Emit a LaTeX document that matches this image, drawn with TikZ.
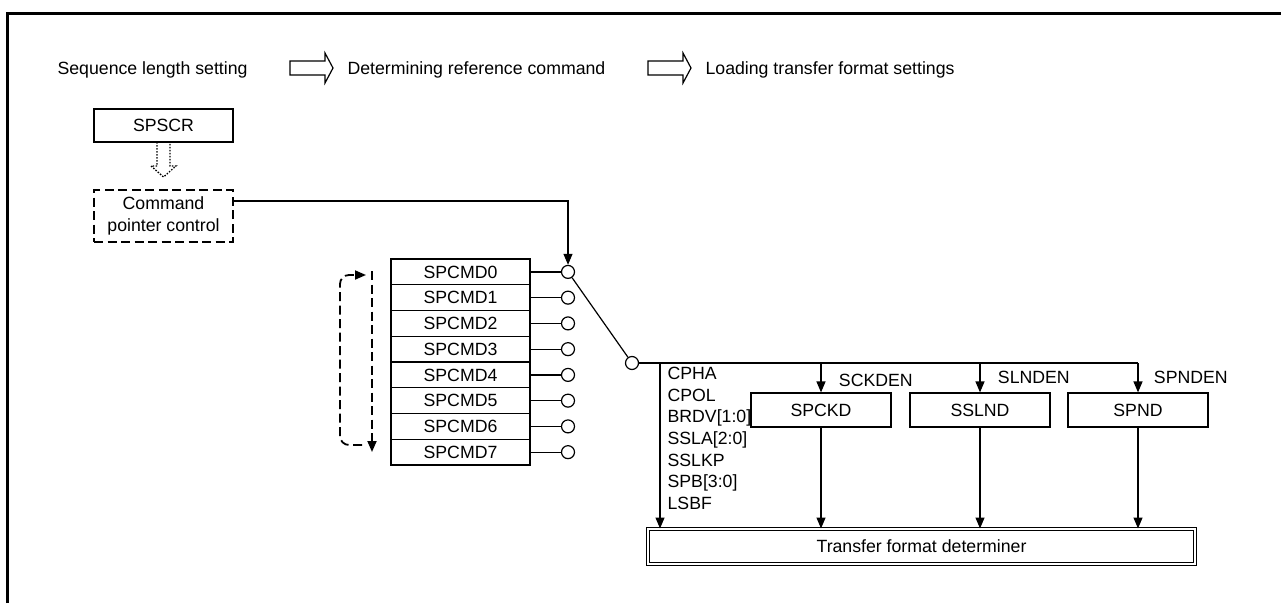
\documentclass[tikz,border=0pt]{standalone}
\usepackage{fontspec}
\setmainfont{Liberation Sans}
\usetikzlibrary{arrows.meta}

\begin{document}
\begin{tikzpicture}[x=1pt,y=-1pt,line width=1.2pt,
    every node/.style={font=\fontsize{17.7}{21.7}\selectfont},
    txt/.style={inner sep=0pt},
    regbox/.style={draw,minimum width=139pt,minimum height=33pt,inner sep=0pt},
    cmdbox/.style={draw,minimum width=139pt,minimum height=25.75pt,inner sep=0pt},
    selbox/.style={draw,minimum width=140pt,minimum height=34pt,inner sep=0pt},
    swpin/.style={draw,circle,fill=white,minimum size=13pt,inner sep=0pt},
    flow/.style={-{Triangle[length=11pt,width=9pt]}},
    loopline/.style={line width=1.8pt,dash pattern=on 9pt off 4.5pt}]
  \useasboundingbox (0,0) rectangle (1281,603);
  \draw[line width=3pt] (7,603) -- (7,13) -- (1281,13);

  % sequence of steps
  \node[txt,anchor=base west] (seq) at (57,74.5) {Sequence length setting};
  \node[txt,anchor=base west] (ref) at (347,74.5) {Determining reference command};
  \node[txt,anchor=base west] (load) at (705,74.5) {Loading transfer format settings};
  \foreach \ax in {290,648}
    \draw (\ax,61) -- ++(35,0) -- ++(0,-8) -- ++(8,15) -- ++(-8,15) -- ++(0,-8) -- ++(-35,0) -- cycle;

  % pointer control
  \node[regbox] (spscr) at (163.5,125.5) {SPSCR};
  \node[regbox,minimum height=52pt,align=center,loopline] (ptrctl) at (163.5,216) {Command\\pointer control};
  \draw[line width=1.3pt,dash pattern=on 1.5pt off 1.5pt]
    (157,142) -- (157,166) -- (151,166) -- (163.5,177) -- (176,166) -- (170,166) -- (170,142);

  % command registers
  \foreach \i in {0,...,7}{
    \node[cmdbox] (cmd\i) at (460.5,{271.9+25.75*\i}) {SPCMD\i};
    \node[swpin] (pin\i) at (568,{271.9+25.75*\i}) {};
    \draw (cmd\i.east) -- (pin\i);
  }
  \node[swpin] (pinsel) at (632,363) {};
  \draw (pin0) -- (pinsel);
  \draw[flow] ([yshift=15pt]ptrctl.east) -| (pin0.north);

  % loop
  \coordinate (lpa) at (372,271);
  \coordinate (lpb) at (372,452);
  \coordinate (lpc) at (362,445);
  \coordinate (lpd) at (366,275);
  \draw[loopline,flow] (lpa) -- (lpb);
  \draw[loopline,flow,rounded corners=9pt] (lpc) -| (340,275) -- (lpd);

  % transfer format settings
  \coordinate (tap) at (660,363);
  \coordinate (busend) at (1138,363);
  \draw (pinsel.east) -- (busend);
  \node[selbox] (spckd) at (821,410) {SPCKD};
  \node[selbox] (sslnd) at (980,410) {SSLND};
  \node[selbox] (spnd) at (1138,410) {SPND};
  \draw[flow] (spckd.north |- pinsel) -- node[right,xshift=14pt,yshift=-3pt] {SCKDEN} (spckd.north);
  \draw[flow] (sslnd.north |- pinsel) -- node[right,xshift=14pt] {SLNDEN} (sslnd.north);
  \draw[flow] (busend) -- node[right,xshift=12pt] {SPNDEN} (spnd.north);
  \foreach \nm [count=\k from 0] in {CPHA,CPOL,{BRDV[1:0]},{SSLA[2:0]},SSLKP,{SPB[3:0]},LSBF}
    \node[txt,anchor=base west] (prm\k) at (667,{379.4+21.7*\k}) {\nm};

  \node[selbox,minimum width=547pt,minimum height=35pt,line width=1pt,double,double distance=2pt] (tfd) at (921.5,546.5) {Transfer format determiner};
  \draw[flow] (tap) -- (tap |- tfd.north);
  \foreach \b in {spckd,sslnd,spnd}
    \draw[flow] (\b.south) -- (\b.south |- tfd.north);
\end{tikzpicture}
\end{document}
